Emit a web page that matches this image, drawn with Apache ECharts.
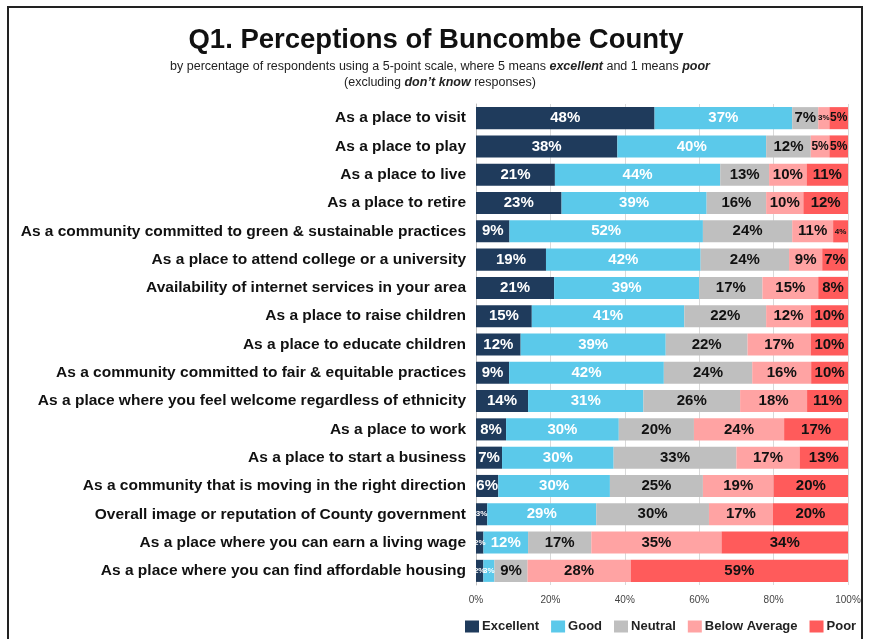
<!DOCTYPE html>
<html>
<head>
<meta charset="utf-8">
<title>Q1. Perceptions of Buncombe County</title>
<script src="https://cdn.jsdelivr.net/npm/echarts@6/dist/echarts.min.js"></script>
<style>
  html, body { margin: 0; padding: 0; background: #fff; }
  #main { width: 872px; height: 639px; }
</style>
</head>
<body>
<div id="main"></div>
<script type="text/javascript">
    // 类别（从上到下）
    var categories = [
        'As a place to visit',
        'As a place to play',
        'As a place to live',
        'As a place to retire',
        'As a community committed to green & sustainable practices',
        'As a place to attend college or a university',
        'Availability of internet services in your area',
        'As a place to raise children',
        'As a place to educate children',
        'As a community committed to fair & equitable practices',
        'As a place where you feel welcome regardless of ethnicity',
        'As a place to work',
        'As a place to start a business',
        'As a community that is moving in the right direction',
        'Overall image or reputation of County government',
        'As a place where you can earn a living wage',
        'As a place where you can find affordable housing'
    ];

    var excellent = [48, 38, 21, 23, 9, 19, 21, 15, 12, 9, 14, 8, 7, 6, 3, 2, 2];
    var good      = [37, 40, 44, 39, 52, 42, 39, 41, 39, 42, 31, 30, 30, 30, 29, 12, 3];
    var neutral   = [7, 12, 13, 16, 24, 24, 17, 22, 22, 24, 26, 20, 33, 25, 30, 17, 9];
    var belowAvg  = [3, 5, 10, 10, 11, 9, 15, 12, 17, 16, 18, 24, 17, 19, 17, 35, 28];
    var poor      = [5, 5, 11, 12, 4, 7, 8, 10, 10, 10, 11, 17, 13, 20, 20, 34, 59];

    var tickLabels = ['0%', '20%', '40%', '60%', '80%', '100%'];

    var seriesNames = ['Excellent', 'Good', 'Neutral', 'Below Average', 'Poor'];
    var seriesColors = ['#1f3b5c', '#5bc9ea', '#bfbfbf', '#ffa3a3', '#ff5b5b'];
    var labelColors = ['#ffffff', '#ffffff', '#111111', '#111111', '#111111'];
    var seriesData = [excellent, good, neutral, belowAvg, poor];

    var font = 'Liberation Sans, Arial, sans-serif';

    // 100% 堆叠：每行按合计缩放，标签仍显示原始百分比
    var rowTotals = categories.map(function (c, r) {
        return seriesData.reduce(function (s, arr) { return s + arr[r]; }, 0);
    });

    var myChart = echarts.init(document.getElementById('main'));

    function makeSeries(i) {
        return {
            name: seriesNames[i],
            type: 'bar',
            stack: 'total',
            barCategoryGap: '22%',
            itemStyle: { color: seriesColors[i] },
            label: {
                show: true,
                position: 'inside',
                color: labelColors[i],
                fontFamily: font,
                formatter: function (p) {
                    var v = p.data.raw;
                    if (v <= 4) return '{s|' + v + '%}';
                    if (v === 5) return '{m|' + v + '%}';
                    return '{n|' + v + '%}';
                },
                rich: {
                    s: { fontSize: 8, fontWeight: 'bold', color: labelColors[i], fontFamily: font },
                    m: { fontSize: 12, fontWeight: 'bold', color: labelColors[i], fontFamily: font },
                    n: { fontSize: 15, fontWeight: 'bold', color: labelColors[i], fontFamily: font }
                }
            },
            data: seriesData[i].map(function (v, r) {
                return { value: v / rowTotals[r] * 100, raw: v };
            })
        };
    }

    var subBold = { fontSize: 12.5, fontWeight: 'bold', fontStyle: 'italic', color: '#222', fontFamily: font };

    var option = {
        animation: false,
        title: {
            text: 'Q1. Perceptions of Buncombe County',
            left: 'center',
            top: 21,
            textStyle: { fontSize: 27.5, fontWeight: 'bold', color: '#111', fontFamily: font }
        },
        graphic: [{
            type: 'rect',
            shape: { x: 8, y: 7, width: 854, height: 650 },
            style: { fill: 'none', stroke: '#222', lineWidth: 2 },
            silent: true
        }, {
            type: 'text',
            x: 440,
            y: 67,
            silent: true,
            style: {
                text: 'by percentage of respondents using a 5-point scale, where 5 means {bi|excellent} and 1 means {bi|poor}',
                align: 'center',
                verticalAlign: 'middle',
                fontSize: 12.5,
                fill: '#222',
                fontFamily: font,
                rich: { bi: subBold }
            }
        }, {
            type: 'text',
            x: 440,
            y: 83,
            silent: true,
            style: {
                text: '(excluding {bi|don\u2019t know} responses)',
                align: 'center',
                verticalAlign: 'middle',
                fontSize: 12.5,
                fill: '#222',
                fontFamily: font,
                rich: { bi: subBold }
            }
        }],
        legend: {
            data: seriesNames,
            left: 460,
            top: 615,
            itemWidth: 14,
            itemHeight: 12,
            itemGap: 12,
            icon: 'rect',
            textStyle: { fontSize: 13, fontWeight: 'bold', color: '#222', fontFamily: font, padding: [0, 0, 0, -2] }
        },
        grid: {
            left: 476,
            right: 24,
            top: 104,
            bottom: 54,
            containLabel: false
        },
        xAxis: {
            type: 'value',
            min: 0,
            max: 100,
            interval: 20,
            axisLine: { show: false },
            axisTick: { show: false },
            splitLine: { lineStyle: { color: '#d9d9d9' } },
            axisLabel: {
                margin: 10,
                fontSize: 10,
                color: '#444',
                fontFamily: font,
                formatter: function (v) { return tickLabels[v / 20]; }
            }
        },
        yAxis: {
            type: 'category',
            inverse: true,
            data: categories,
            axisLine: { show: true, lineStyle: { color: '#bfbfbf' } },
            axisTick: { show: false },
            axisLabel: {
                margin: 10,
                fontSize: 15.5,
                fontWeight: 'bold',
                color: '#111',
                fontFamily: font
            }
        },
        series: [0, 1, 2, 3, 4].map(makeSeries)
    };

    myChart.setOption(option);
</script>
</body>
</html>
